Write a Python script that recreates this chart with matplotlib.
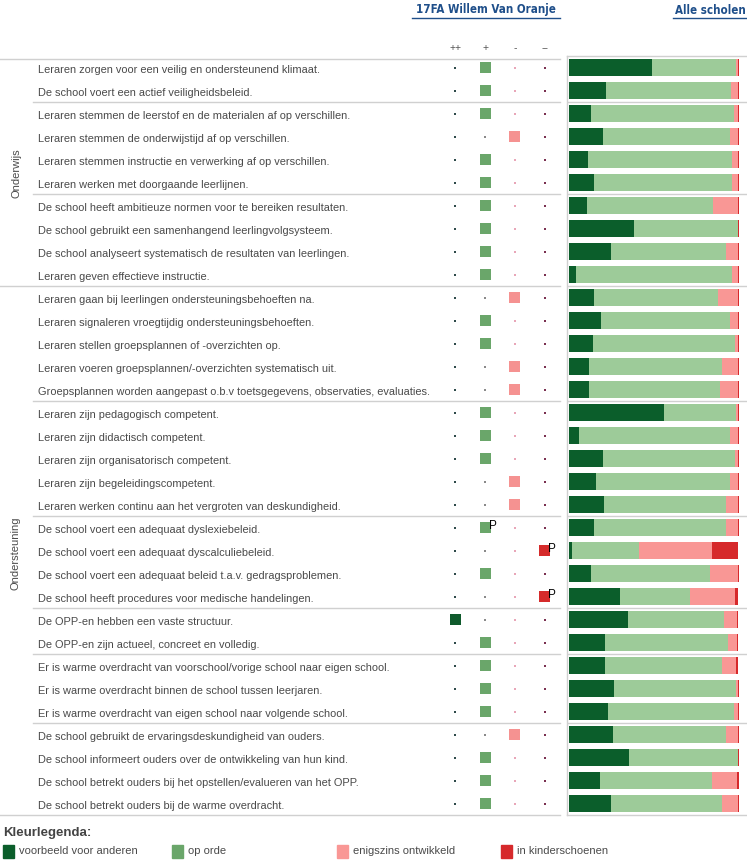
import matplotlib
matplotlib.use("Agg")
import matplotlib.pyplot as plt
from matplotlib.patches import Rectangle
from matplotlib.lines import Line2D

plt.rcParams['font.family'] = ['Liberation Sans', 'DejaVu Sans']

# ===== DATA =====
labels = [
    "Leraren zorgen voor een veilig en ondersteunend klimaat.",
    "De school voert een actief veiligheidsbeleid.",
    "Leraren stemmen de leerstof en de materialen af op verschillen.",
    "Leraren stemmen de onderwijstijd af op verschillen.",
    "Leraren stemmen instructie en verwerking af op verschillen.",
    "Leraren werken met doorgaande leerlijnen.",
    "De school heeft ambitieuze normen voor te bereiken resultaten.",
    "De school gebruikt een samenhangend leerlingvolgsysteem.",
    "De school analyseert systematisch de resultaten van leerlingen.",
    "Leraren geven effectieve instructie.",
    "Leraren gaan bij leerlingen ondersteuningsbehoeften na.",
    "Leraren signaleren vroegtijdig ondersteuningsbehoeften.",
    "Leraren stellen groepsplannen of -overzichten op.",
    "Leraren voeren groepsplannen/-overzichten systematisch uit.",
    "Groepsplannen worden aangepast o.b.v toetsgegevens, observaties, evaluaties.",
    "Leraren zijn pedagogisch competent.",
    "Leraren zijn didactisch competent.",
    "Leraren zijn organisatorisch competent.",
    "Leraren zijn begeleidingscompetent.",
    "Leraren werken continu aan het vergroten van deskundigheid.",
    "De school voert een adequaat dyslexiebeleid.",
    "De school voert een adequaat dyscalculiebeleid.",
    "De school voert een adequaat beleid t.a.v. gedragsproblemen.",
    "De school heeft procedures voor medische handelingen.",
    "De OPP-en hebben een vaste structuur.",
    "De OPP-en zijn actueel, concreet en volledig.",
    "Er is warme overdracht van voorschool/vorige school naar eigen school.",
    "Er is warme overdracht binnen de school tussen leerjaren.",
    "Er is warme overdracht van eigen school naar volgende school.",
    "De school gebruikt de ervaringsdeskundigheid van ouders.",
    "De school informeert ouders over de ontwikkeling van hun kind.",
    "De school betrekt ouders bij het opstellen/evalueren van het OPP.",
    "De school betrekt ouders bij de warme overdracht.",
]
sections = ["Onderwijs", "Ondersteuning"]
section_rows = [(0, 9), (10, 32)]
group_ends = [1, 5, 14, 19, 23, 25, 28]   # thin separators after these rows
major_ends = [9]                          # full-width separator

columns = ["++", "+", "-", "--"]
ratings = ["+", "+", "+", "-", "+", "+", "+", "+", "+", "+",
           "-", "+", "+", "-", "-", "+", "+", "+", "-", "-",
           "+", "--", "+", "--", "++", "+", "+", "+", "+", "-",
           "+", "+", "+"]
p_rows = [20, 21, 23]

# Alle scholen: % voorbeeld / op orde / enigszins / kinderschoenen
dark = [49, 22, 13, 20, 11.2, 14.7, 10.6, 38.3, 24.8, 4.1,
        14.7, 18.9, 14.1, 11.8, 11.8, 56, 5.9, 20, 15.9, 20.6,
        14.7, 1.8, 13, 30.1, 34.8, 21.2, 21.2, 26.5, 23, 25.9,
        35.4, 18.3, 24.8]
light = [49.3, 73.5, 84, 74.7, 84.7, 81.1, 74.1, 61.1, 67.6, 91.7,
         73.1, 75.8, 83.5, 78.4, 77.2, 42.2, 88.8, 77.6, 78.8, 71.7,
         77.6, 39.5, 70.1, 41.1, 56.4, 72.3, 68.8, 71.7, 74.1, 66.4,
         64, 65.8, 65.2]
pink = [1.1, 3.9, 2.4, 4.7, 3.5, 3.6, 14.7, 0, 7.1, 3.6,
        11.6, 4.7, 1.8, 9.2, 10.4, 1.2, 4.7, 1.8, 4.7, 7.1,
        7.1, 43, 16.3, 26.5, 7.7, 5.3, 8.3, 1.2, 2.4, 7.1,
        0, 14.7, 9.4]
red = [0.6, 0.6, 0.6, 0.6, 0.6, 0.6, 0.6, 0.6, 0.6, 0.6,
       0.6, 0.6, 0.6, 0.6, 0.6, 0.6, 0.6, 0.6, 0.6, 0.6,
       0.6, 15.1, 0.6, 1.8, 0.6, 0.6, 1.2, 0.6, 0.6, 0.6,
       0.6, 1.2, 0.6]

legend_labels = ["voorbeeld voor anderen", "op orde", "enigszins ontwikkeld", "in kinderschoenen"]

# ===== STYLE =====
C_DARK, C_LIGHT, C_PINK, C_RED = "#0b5e2b", "#9dcb99", "#f99795", "#d6292b"
mark_colors = ["#0f5a2c", "#6aa66a", "#f59291", "#d52b2b"]
dot_colors = ["#2e4a4a", "#8a8a8a", "#e8a6b8", "#7a3050"]
TXT = "#4a4a4a"
LINE = "#d0d0d0"
BLUE = "#1f4f8a"

W, H = 747, 864
fig = plt.figure(figsize=(W / 100, H / 100), dpi=100)


def box(x0, y0, x1, y1):
    return [x0 / W, 1 - y1 / H, (x1 - x0) / W, (y1 - y0) / H]


n = len(labels)
ROW0, ROWH = 67.5, 23.0
top = ROW0 - ROWH / 2
bot = ROW0 + ROWH * (n - 0.5)

# ----- table with statements -----
tab = fig.add_axes(box(0, top, 560, bot))
tab.set_xlim(0, 560)
tab.set_ylim(n - 0.5, -0.5)
tab.axis("off")
for i, lab in enumerate(labels):
    tab.text(38, i + 0.12, lab, fontsize=7.9, color=TXT, va="center", ha="left")
for b in group_ends:
    tab.plot([33, 560], [b + 0.5, b + 0.5], color=LINE, lw=1, clip_on=False)
for b in major_ends + [n - 1]:
    tab.plot([0, 560], [b + 0.5, b + 0.5], color=LINE, lw=1, clip_on=False)
tab.plot([0, 560], [-0.37, -0.37], color=LINE, lw=1, clip_on=False)
for name, (a, b) in zip(sections, section_rows):
    tab.text(16, (a + b) / 2 + 0.1, name, rotation=90, fontsize=8, color=TXT,
             ha="center", va="center")

# ----- rating markers -----
mk = fig.add_axes(box(440.5, top, 559.5, bot))
mk.set_xlim(-0.5, 3.5)
mk.set_ylim(n - 0.5, -0.5)
mk.axis("off")
rows = list(range(n))
for c, col in enumerate(columns):
    mk.scatter([c] * n, rows, s=2.5, marker="s", color=dot_colors[c], lw=0)
    mk.text(c, -0.85, col, fontsize=7.5, color="#555555", ha="center", va="center")
sel_x = [columns.index(r) for r in ratings]
mk.scatter(sel_x, rows, s=62, marker="s", c=[mark_colors[x] for x in sel_x], lw=0, zorder=3)
for i in p_rows:
    mk.text(sel_x[i] + 0.12, i - 0.05, "P", fontsize=8.5, color="black",
            ha="left", va="center", zorder=4)

# ----- Alle scholen stacked bars -----
bx = fig.add_axes(box(567, top, 749, bot))
bx.set_xlim(-1.18, 105.9)
bx.set_ylim(n - 0.5, -0.5)
left = [0.0] * n
for vals, col in [(dark, C_DARK), (light, C_LIGHT), (pink, C_PINK), (red, C_RED)]:
    bx.barh(rows, vals, left=left, height=0.74, color=col, lw=0)
    left = [l + v for l, v in zip(left, vals)]
for b in group_ends + major_ends:
    bx.axhline(b + 0.5, color=LINE, lw=1)
bx.set_xticks([])
bx.set_yticks([])
bx.spines["right"].set_visible(False)
for s in ["left", "top", "bottom"]:
    bx.spines[s].set_color(LINE)
    bx.spines[s].set_linewidth(1)

# ----- headers -----
hfont = ["DejaVu Sans Condensed", "DejaVu Sans"]
fig.text(486 / W, 1 - 10 / H, "17FA Willem Van Oranje", fontsize=8.3, weight="bold",
         color=BLUE, ha="center", va="center", family=hfont, fontstretch="condensed")
fig.add_artist(Line2D([412 / W, 560 / W], [1 - 18 / H] * 2, color=BLUE, lw=1))
fig.text(746 / W, 1 - 10 / H, "Alle scholen", fontsize=8.3, weight="bold",
         color=BLUE, ha="right", va="center", family=hfont, fontstretch="condensed")
fig.add_artist(Line2D([673 / W, 747 / W], [1 - 18 / H] * 2, color=BLUE, lw=1))

# ----- colour legend -----
fig.text(3 / W, 1 - 833 / H, "Kleurlegenda:", fontsize=9.5, weight="bold",
         color="#444444", ha="left", va="center")
leg_colors = [C_DARK, "#6aa66a", C_PINK, C_RED]
for k, (lab, col) in enumerate(zip(legend_labels, leg_colors)):
    x0 = [3, 172, 337, 501][k]
    fig.add_artist(Rectangle((x0 / W, 1 - 858 / H), 11 / W, 13 / H, color=col,
                             transform=fig.transFigure))
    fig.text((x0 + 16) / W, 1 - 851 / H, lab, fontsize=8, color=TXT,
             ha="left", va="center")

fig.savefig("out.png", dpi=100)
